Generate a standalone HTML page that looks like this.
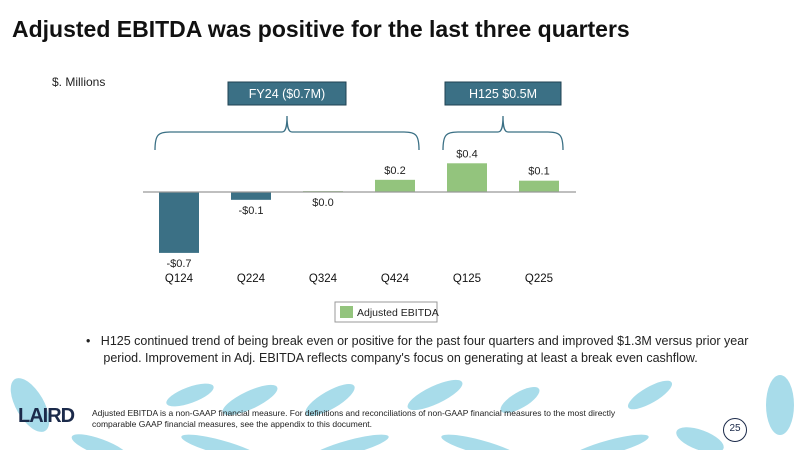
<!DOCTYPE html>
<html><head><meta charset="utf-8"><style>
body{margin:0;width:800px;height:450px;overflow:hidden;background:#fff;font-family:"Liberation Sans",sans-serif;position:relative}
.t{position:absolute;white-space:nowrap}
</style></head><body>
<div class="t" style="left:12px;top:16px;font-size:23px;font-weight:bold;color:#111">Adjusted EBITDA was positive for the last three quarters</div>
<div class="t" style="left:52px;top:75px;font-size:12px;color:#222">$. Millions</div>
<svg width="800" height="450" style="position:absolute;left:0;top:0">
<g fill="#a8dcea">
<ellipse cx="30" cy="405" rx="14" ry="30" transform="rotate(-30 30 405)"/>
<ellipse cx="190" cy="395" rx="25" ry="8" transform="rotate(-20 190 395)"/>
<ellipse cx="250" cy="400" rx="30" ry="9" transform="rotate(-25 250 400)"/>
<ellipse cx="330" cy="400" rx="28" ry="9" transform="rotate(-30 330 400)"/>
<ellipse cx="435" cy="395" rx="30" ry="9" transform="rotate(-25 435 395)"/>
<ellipse cx="520" cy="400" rx="22" ry="8" transform="rotate(-30 520 400)"/>
<ellipse cx="650" cy="395" rx="25" ry="8" transform="rotate(-30 650 395)"/>
<ellipse cx="780" cy="405" rx="14" ry="30"/>
<ellipse cx="100" cy="447" rx="30" ry="8" transform="rotate(20 100 447)"/>
<ellipse cx="220" cy="447" rx="40" ry="7" transform="rotate(15 220 447)"/>
<ellipse cx="350" cy="447" rx="40" ry="7" transform="rotate(-15 350 447)"/>
<ellipse cx="480" cy="447" rx="40" ry="7" transform="rotate(15 480 447)"/>
<ellipse cx="610" cy="447" rx="40" ry="7" transform="rotate(-15 610 447)"/>
<ellipse cx="700" cy="440" rx="25" ry="10" transform="rotate(20 700 440)"/>
</g>
<g id="plot"></g>
</svg>
<div class="t" style="left:86px;top:333px;font-size:12.5px;color:#222;line-height:17px">•&nbsp;&nbsp;&nbsp;H125 continued trend of being break even or positive for the past four quarters and improved $1.3M versus prior year<br>&nbsp;&nbsp;&nbsp;&nbsp;&nbsp;period. Improvement in Adj. EBITDA reflects company's focus on generating at least a break even cashflow.</div>
<div class="t" style="left:18px;top:405px;font-size:20px;font-weight:bold;color:#1b2a4a;letter-spacing:-1px">LAIRD</div>
<div class="t" style="left:92px;top:408px;font-size:8.5px;color:#222;line-height:10.5px">Adjusted EBITDA is a non-GAAP financial measure. For definitions and reconciliations of non-GAAP financial measures to the most directly<br>comparable GAAP financial measures, see the appendix to this document.</div>
<div class="t" style="left:723px;top:418px;width:22px;height:22px;border:1px solid #1b2a4a;border-radius:50%;font-size:10px;text-align:center;line-height:20px;color:#1b2a4a;background:#fff">25</div>
<script>
const categories=["Q124","Q224","Q324","Q424","Q125","Q225"];
const values=[-0.70,-0.09,0.01,0.14,0.33,0.13];
const labels=["-$0.7","-$0.1","$0.0","$0.2","$0.4","$0.1"];
const groups=[{text:"FY24 ($0.7M)",from:0,to:3},{text:"H125 $0.5M",from:4,to:5}];
const zeroY=192,scale=87,x0=179,step=72,bw=40;
const xs=i=>x0+i*step, ys=v=>zeroY-v*scale;
const ns="http://www.w3.org/2000/svg",g=document.getElementById('plot');
function mk(t,a){const e=document.createElementNS(ns,t);for(const k in a)e.setAttribute(k,a[k]);g.appendChild(e);return e;}
values.forEach((v,i)=>{
 const r=mk('rect',{x:xs(i)-bw/2,y:Math.min(ys(v),zeroY),width:bw,height:Math.max(Math.abs(ys(v)-zeroY),1),fill:v<0?'#3b7085':'#93c47d'});
 
 
 const ly=v<0?ys(v)+14:ys(v)-6;
 const tl=mk('text',{x:xs(i),y:(v>=0&&v<0.05)?zeroY+14:ly,'text-anchor':'middle','font-size':11,fill:'#222'});tl.textContent=labels[i];
 
 
 const c=mk('text',{x:xs(i),y:282,'text-anchor':'middle','font-size':11.5,fill:'#111'});c.textContent=categories[i];
 
 
});
const ax=mk('line',{x1:143,x2:576,y1:zeroY,y2:zeroY,stroke:'#999','stroke-width':1.2});


groups.forEach(gr=>{
 const a=xs(gr.from)-24,b=xs(gr.to)+24,m=(a+b)/2;
 const p=mk('path',{d:`M${a},150 C${a},135 ${a+3},132 ${a+15},132 L${m-5},132 C${m-1},132 ${m},126 ${m},116 C${m},126 ${m+1},132 ${m+5},132 L${b-15},132 C${b-3},132 ${b},135 ${b},150`,fill:'none',stroke:'#3b7085','stroke-width':1.3});
 
 
 const w=gr.text.length>10?118:116;
 const bx=mk('rect',{x:m-w/2,y:82,width:w,height:23,fill:'#3b7085',stroke:'#1f4252'});
 
 
 const t=mk('text',{x:m,y:98,'text-anchor':'middle','font-size':12.5,fill:'#fff'});t.textContent=gr.text;
 
 
});
const lg=mk('rect',{x:335,y:302,width:102,height:20,fill:'#fff',stroke:'#999'});


const ls=mk('rect',{x:340,y:306,width:13,height:12,fill:'#93c47d'});


const lt=mk('text',{x:357,y:316,'font-size':10.5,fill:'#222'});lt.textContent='Adjusted EBITDA';


</script>
</body></html>
